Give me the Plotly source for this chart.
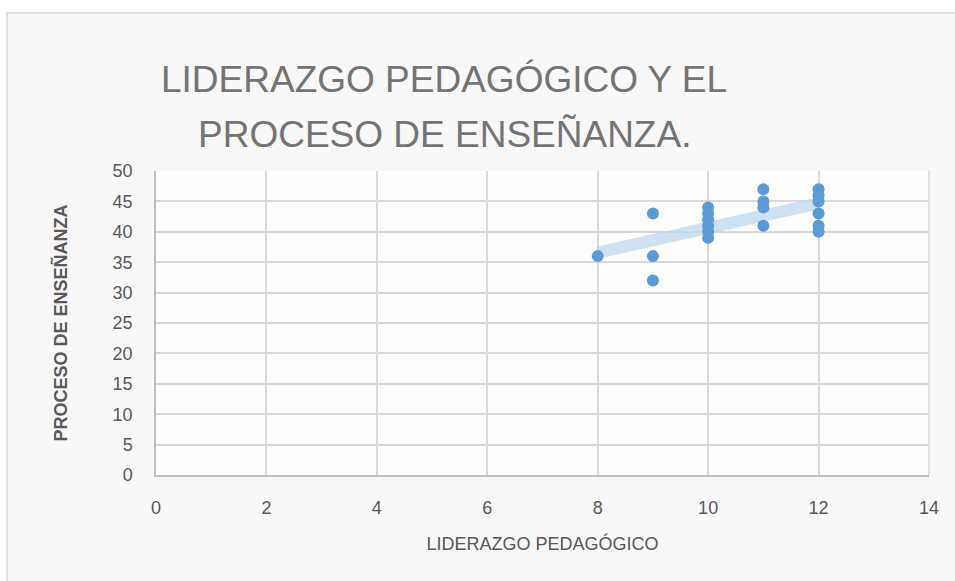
import numpy as np
import plotly.graph_objects as go

liderazgo = [8, 9, 9, 9, 10, 10, 10, 10, 10, 10, 11, 11, 11, 11, 12, 12, 12, 12, 12, 12]
proceso = [36, 43, 36, 32, 39, 40, 41, 42, 43, 44, 47, 45, 44, 41, 47, 46, 45, 43, 41, 40]

x_ticks = [0, 2, 4, 6, 8, 10, 12, 14]
y_ticks = [0, 5, 10, 15, 20, 25, 30, 35, 40, 45, 50]

title_lines = ["LIDERAZGO PEDAGÓGICO Y EL", "PROCESO DE ENSEÑANZA."]
x_title = "LIDERAZGO PEDAGÓGICO"
y_title = "PROCESO DE ENSEÑANZA"

slope, intercept = np.polyfit(liderazgo, proceso, 1)
tx = [min(liderazgo), max(liderazgo)]
ty = [slope * v + intercept for v in tx]

fig = go.Figure()
fig.add_trace(go.Scatter(x=tx, y=ty, mode="lines",
                         line=dict(color="rgba(189,215,238,0.75)", width=12),
                         hoverinfo="skip", showlegend=False))
fig.add_trace(go.Scatter(x=liderazgo, y=proceso, mode="markers",
                         marker=dict(color="#5B9BD5", size=12),
                         showlegend=False))

W, H = 955, 581
L, R, T, B = 156, 929, 171, 475
pw, ph = R - L, B - T

def px_to_paper_x(px):
    return (px - L) / pw

def px_to_paper_y(py):
    return (B - py) / ph

fig.add_shape(type="rect", xref="paper", yref="paper",
              x0=px_to_paper_x(7), x1=px_to_paper_x(975),
              y0=px_to_paper_y(600), y1=px_to_paper_y(13),
              fillcolor="#f8f8f8", line=dict(color="#d9d9d9", width=1.5),
              layer="below")
fig.add_shape(type="rect", xref="paper", yref="paper",
              x0=0, x1=1, y0=0, y1=1,
              fillcolor="#fdfdfd", line=dict(width=0), layer="below")

for line, cy in zip(title_lines, [80, 134]):
    fig.add_annotation(text=line, xref="paper", yref="paper",
                       x=px_to_paper_x(444), y=px_to_paper_y(cy),
                       xanchor="center", yanchor="middle", showarrow=False,
                       font=dict(family="Liberation Sans", size=37, color="#747474"))

fig.update_layout(
    width=W, height=H,
    margin=dict(l=L, r=W - R, t=T, b=H - B),
    paper_bgcolor="white",
    plot_bgcolor="rgba(0,0,0,0)",
    font=dict(family="Liberation Sans", color="#595959"),
    xaxis=dict(range=[0, 14], tickvals=x_ticks, showgrid=True, gridcolor="#d9d9d9",
               gridwidth=1.5, zeroline=False, showline=True, linecolor="#bfbfbf",
               linewidth=1.5, ticks="outside", ticklen=16, tickcolor="rgba(0,0,0,0)",
               tickfont=dict(size=18, color="#595959"),
               title=dict(text=x_title, font=dict(size=18, color="#595959"), standoff=20)),
    yaxis=dict(range=[0, 50], tickvals=y_ticks, showgrid=True, gridcolor="#d9d9d9",
               gridwidth=1.5, zeroline=False, showline=True, linecolor="#bfbfbf",
               linewidth=1.5, ticks="outside", ticklen=18, tickcolor="rgba(0,0,0,0)",
               tickfont=dict(size=18, color="#595959"),
               title=dict(text="<b>" + y_title + "</b>", font=dict(size=18, color="#595959"),
                          standoff=40)),
)
fig.add_shape(type="line", xref="paper", yref="paper", x0=1, x1=1, y0=0, y1=1,
              line=dict(color="#d9d9d9", width=1.5))

fig.write_html("out.html", config={"displayModeBar": False},
               post_script="document.body.style.margin='0';")
